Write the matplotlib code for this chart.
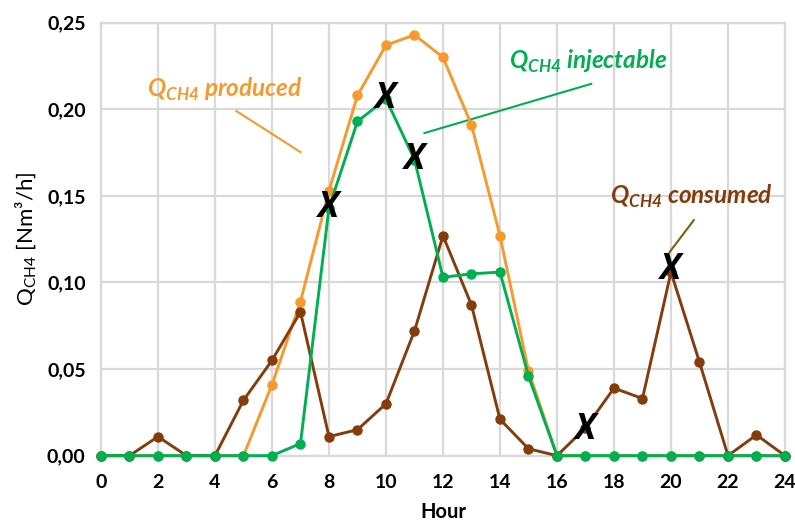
import numpy as np
import matplotlib
matplotlib.use("Agg")
import matplotlib.pyplot as plt

plt.rcParams['font.family'] = ['Lato', 'DejaVu Sans']

# hourly methane flows
hours = list(range(25))
q_produced = [0, 0, 0, 0, 0, 0, 0.041, 0.089, 0.153, 0.208, 0.237, 0.243, 0.230,
              0.191, 0.127, 0.049, 0, 0, 0, 0, 0, 0, 0, 0, 0]
q_injectable = [0, 0, 0, 0, 0, 0, 0, 0.007, 0.143, 0.193, 0.206, 0.171, 0.103,
                0.105, 0.106, 0.046, 0, 0, 0, 0, 0, 0, 0, 0, 0]
q_consumed = [0, 0, 0.011, 0, 0, 0.032, 0.055, 0.083, 0.011, 0.015, 0.030, 0.072, 0.127,
              0.087, 0.021, 0.004, 0, 0.016, 0.039, 0.033, 0.106, 0.054, 0, 0.012, 0]

# hours flagged with a cross, and the value the cross sits on
cross_hours = [8, 10, 11, 17, 20]
cross_values = [0.143, 0.206, 0.171, 0.015, 0.107]

xticks = list(range(0, 25, 2))
yticks = [0.00, 0.05, 0.10, 0.15, 0.20, 0.25]

c_prod = '#F7992C'
c_inj = '#00B050'
c_cons = '#843C0C'

fig = plt.figure(figsize=(7.95, 5.26), dpi=100)
ax = fig.add_axes([0.127, 0.1337, 0.8604, 0.8231])

ax.plot(hours, q_produced, '-o', color=c_prod, lw=2.1, ms=6.5, clip_on=False, zorder=3)
ax.plot(hours, q_consumed, '-o', color=c_cons, lw=2.1, ms=6.5, clip_on=False, zorder=4)
ax.plot(hours, q_injectable, '-o', color=c_inj, lw=2.1, ms=6.5, clip_on=False, zorder=5)

for h, v in zip(cross_hours, cross_values):
    ax.text(h, v, 'X', ha='center', va='center', fontsize=25, fontweight='bold',
            style='italic', family=['Open Sans', 'DejaVu Sans'], color='black', zorder=6)

ax.set_xlim(0, 24)
ax.set_ylim(0, 0.25)
ax.set_xticks(xticks)
ax.set_yticks(yticks)
ax.set_yticklabels([f'{v:.2f}'.replace('.', ',') for v in yticks])
ax.tick_params(length=0, labelsize=14)
ax.tick_params(axis='x', pad=13)
ax.tick_params(axis='y', pad=11)
for lab in ax.get_xticklabels() + ax.get_yticklabels():
    lab.set_fontweight('bold')
ax.grid(True, color='#D9D9D9', lw=1.6)
ax.set_axisbelow(True)
for s in ax.spines.values():
    s.set_color('#D9D9D9')
    s.set_linewidth(1.6)

ax.set_xlabel('Hour', fontsize=14.5, fontweight='bold', labelpad=8)
ax.set_ylabel(r'Q$_\mathregular{CH4}$ [Nm³/h]', fontsize=16, labelpad=6)

# series labels with leader lines
ax.text(1.6, 0.2115, r'Q$_\mathregular{CH4}$ produced', color=c_prod, fontsize=17.5,
        fontweight='bold', style='italic', va='center')
ax.plot([4.75, 7.0], [0.1990, 0.1753], color=c_prod, lw=1.5)

ax.text(14.3, 0.2275, r'Q$_\mathregular{CH4}$ injectable', color=c_inj, fontsize=17.5,
        fontweight='bold', style='italic', va='center')
ax.plot([11.35, 17.2], [0.1863, 0.2147], color=c_inj, lw=1.5)

ax.text(17.85, 0.1495, r'Q$_\mathregular{CH4}$ consumed', color=c_cons, fontsize=17.5,
        fontweight='bold', style='italic', va='center')
ax.plot([19.95, 20.8], [0.1175, 0.1360], color='#7F6000', lw=1.5)

fig.savefig('out.png', dpi=100)
